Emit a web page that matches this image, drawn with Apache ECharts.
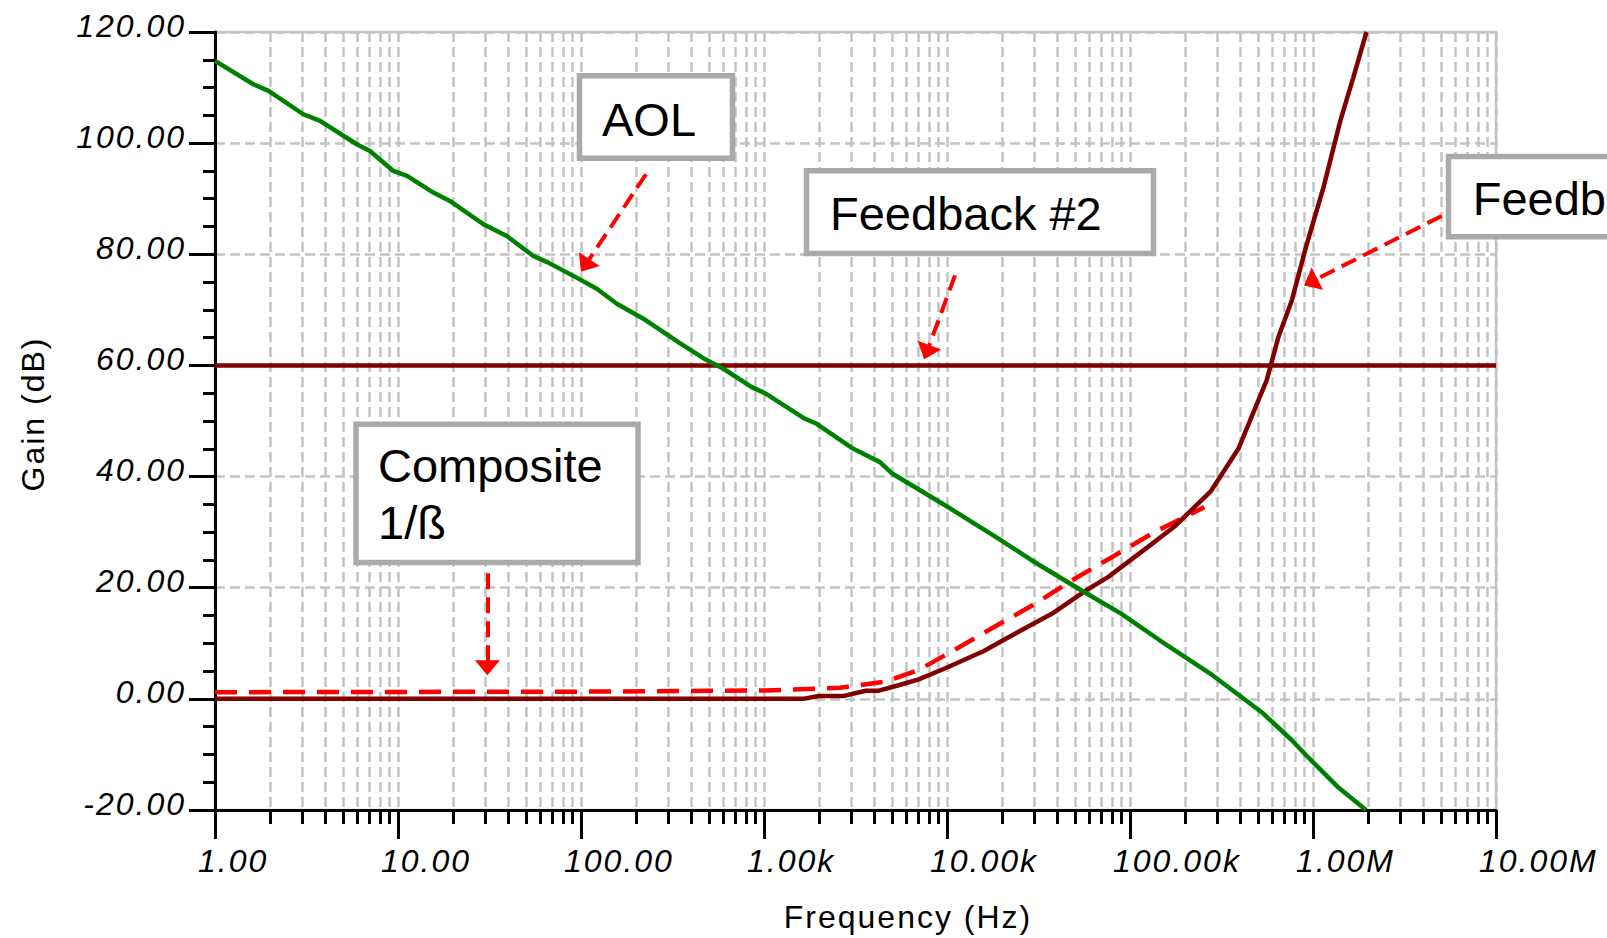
<!DOCTYPE html>
<html>
<head>
<meta charset="utf-8">
<title>Gain vs Frequency</title>
<script src="https://cdn.jsdelivr.net/npm/echarts@6/dist/echarts.min.js"></script>
<style>
  html, body { margin: 0; padding: 0; background: #fff; }
  #chart { width: 1607px; height: 938px; }
  /* the axis texts of the original are spaced out a little */
  #chart text[style*="32px"] { letter-spacing: 2px; }
</style>
</head>
<body>
<div id="chart"></div>
<script>
  // decade ticks and their labels
  var decades = [1, 10, 100, 1000, 10000, 100000, 1000000, 10000000];
  var xTickLabels = ['1.00', '10.00', '100.00', '1.00k', '10.00k', '100.00k', '1.00M', '10.00M'];
  var minorSteps = [2, 3, 4, 5, 6, 7, 8, 9];

  // AOL (open loop gain)
  var aolFreq = [1, 1.62, 1.96, 3.04, 3.75, 5.95, 7.03, 9.43, 11.2, 15.6, 19.2, 29.3, 39.3, 54.9, 66.2, 94.6,
    122, 157, 219, 282, 347, 466, 600, 857, 1012, 1675, 1940, 3077, 4300, 5040, 9800, 19200, 29100,
    54400, 89800, 146000, 273000, 533000, 764000, 914000, 1360000, 1950000];
  var aolGain = [114.8, 110.6, 109.4, 105.2, 104.0, 99.8, 98.6, 95.0, 94.1, 91.1, 89.6, 85.4, 83.3, 79.7, 78.5, 75.8,
    73.8, 71.1, 68.4, 66.0, 64.0, 61.3, 59.4, 56.1, 55.0, 50.4, 49.5, 45.0, 42.6, 40.5, 34.8, 28.8, 24.9,
    19.5, 15.3, 10.5, 4.6, -2.6, -7.4, -10.1, -15.8, -20.0];

  // Feedback #1
  var fb1Freq = [1, 1630, 2000, 2700, 3600, 4200, 5500, 7000, 9800, 15900, 21700, 37400, 56800, 75800,
    125000, 175000, 277000, 391000, 558000, 647000, 766000, 924000, 1140000, 1410000, 1660000, 1960000];
  var fb1Gain = [0, 0, 0.5, 0.5, 1.45, 1.45, 2.5, 3.5, 5.5, 8.6, 11.1, 15.3, 19.4, 21.9,
    27.3, 31.0, 37.4, 45.0, 57.3, 65.1, 71.7, 81.8, 92.0, 104.0, 111.8, 120.0];

  // Feedback #2
  var fb2Freq = [1, 10000000];
  var fb2Gain = [60, 60];

  // Composite 1/beta
  var compFreq = [1, 100, 1000, 2600, 4600, 7000, 10200, 17600, 29200, 48000, 82600, 136000, 255000];
  var compGain = [1.2, 1.3, 1.5, 2.0, 3.1, 5.2, 8.2, 12.7, 16.8, 21.3, 25.8, 30.0, 34.5];

  // annotation arrows: [fromFreq, fromGain, toFreq, toGain]
  var arrows = [
    [226.5, 94.4, 105.4, 78.0],
    [11060, 76.2, 7750, 62.4],
    [5050000, 86.9, 971000, 75.0],
    [30.8, 22.6, 30.8, 5.6]
  ];

  function pairs (xs, ys) {
    return xs.map(function (x, i) { return [x, ys[i]] })
  }

  var minorTicks = [];
  decades.slice(0, -1).forEach(function (d) {
    minorSteps.forEach(function (s) { minorTicks.push(d * s) })
  });

  var gridLine = { color: '#c3c3c3', width: 2.5, type: [10, 5] };
  var axisFont = { fontFamily: 'Liberation Sans', fontSize: 32, color: '#000' };

  var chart = echarts.init(document.getElementById('chart'), null, { renderer: 'svg' });

  var option = {
    animation: false,
    backgroundColor: '#fff',
    grid: {
      left: 215, top: 32, width: 1281, height: 778,
      show: true, borderColor: '#c3c3c3', borderWidth: 2.5
    },
    xAxis: [{
      type: 'log', logBase: 10, min: 1, max: 10000000, position: 'bottom',
      name: 'Frequency (Hz)', nameLocation: 'middle', nameGap: 91,
      nameTextStyle: Object.assign({ padding: [0, 0, 0, 105] }, axisFont),
      axisLine: { onZero: false, lineStyle: { color: '#000', width: 3 } },
      axisTick: { customValues: decades, length: 29, lineStyle: { color: '#000', width: 3 } },
      axisLabel: Object.assign({
        customValues: decades, fontStyle: 'italic', margin: 35, align: 'left', padding: [0, 0, 0, -17],
        formatter: function (v) { return xTickLabels[Math.round(Math.log10(v))] }
      }, axisFont),
      splitLine: { show: true, lineStyle: gridLine }
    }, {
      type: 'log', logBase: 10, min: 1, max: 10000000, position: 'bottom',
      axisLine: { show: false, onZero: false },
      axisTick: { customValues: minorTicks, length: 14, lineStyle: { color: '#000', width: 3 } },
      axisLabel: { show: false },
      splitLine: { show: true, lineStyle: gridLine }
    }],
    yAxis: {
      type: 'value', min: -20, max: 120, interval: 20,
      name: 'Gain (dB)', nameLocation: 'middle', nameGap: 166,
      nameTextStyle: Object.assign({ padding: [0, 0, 0, 14] }, axisFont),
      axisLine: { show: true, onZero: false, lineStyle: { color: '#000', width: 3 } },
      axisTick: { show: true, length: 26, lineStyle: { color: '#000', width: 3 } },
      minorTick: { show: true, splitNumber: 4, length: 12, lineStyle: { color: '#000', width: 3 } },
      axisLabel: Object.assign({
        fontStyle: 'italic', margin: 29, verticalAlign: 'bottom', lineHeight: 13,
        formatter: function (v) { return v.toFixed(2) }
      }, axisFont),
      splitLine: { show: true, lineStyle: gridLine }
    },
    series: [{
      name: 'Composite 1/ß', type: 'line', data: pairs(compFreq, compGain),
      symbol: 'none', silent: true,
      lineStyle: { color: '#ff0000', width: 4.5, type: [22, 12] },
      itemStyle: { color: '#ff0000' },
      markLine: {
        silent: true, symbol: ['none', 'triangle'],
        label: { show: false },
        lineStyle: { color: '#ff0000', width: 4, type: [16, 8] },
        itemStyle: { color: '#ff0000' },
        data: arrows.map(function (a) {
          return [{ coord: [a[0], a[1]] }, { coord: [a[2], a[3]], symbolSize: [25, 15] }]
        })
      }
    }, {
      name: 'Feedback #2', type: 'line', data: pairs(fb2Freq, fb2Gain),
      symbol: 'none', silent: true,
      lineStyle: { color: '#800000', width: 4.5 }, itemStyle: { color: '#800000' }
    }, {
      name: 'Feedback #1', type: 'line', data: pairs(fb1Freq, fb1Gain),
      symbol: 'none', silent: true,
      lineStyle: { color: '#800000', width: 4.5 }, itemStyle: { color: '#800000' }
    }, {
      name: 'AOL', type: 'line', data: pairs(aolFreq, aolGain),
      symbol: 'none', silent: true,
      lineStyle: { color: '#008000', width: 4.5 }, itemStyle: { color: '#008000' }
    }],
    graphic: [
      { type: 'rect', z: 100, shape: { x: 579.5, y: 75.8, width: 153, height: 82.4 },
        style: { fill: '#fff', stroke: '#aaaaaa', lineWidth: 5.5 } },
      { type: 'text', z: 101, x: 602, y: 119.7,
        style: { text: 'AOL', font: '47px "Liberation Sans"', fill: '#000', verticalAlign: 'middle' } },

      { type: 'rect', z: 100, shape: { x: 806.5, y: 170.8, width: 347, height: 82.7 },
        style: { fill: '#fff', stroke: '#aaaaaa', lineWidth: 5.5 } },
      { type: 'text', z: 101, x: 830, y: 213.7,
        style: { text: 'Feedback #2', font: '47px "Liberation Sans"', fill: '#000', verticalAlign: 'middle' } },

      { type: 'rect', z: 100, shape: { x: 1448.5, y: 156.5, width: 200, height: 80.3 },
        style: { fill: '#fff', stroke: '#aaaaaa', lineWidth: 5.5 } },
      { type: 'text', z: 101, x: 1472.7, y: 198.7,
        style: { text: 'Feedback #1', font: '47px "Liberation Sans"', fill: '#000', verticalAlign: 'middle' } },

      { type: 'rect', z: 100, shape: { x: 356, y: 424.2, width: 282, height: 138.3 },
        style: { fill: '#fff', stroke: '#aaaaaa', lineWidth: 5.5 } },
      { type: 'text', z: 101, x: 378, y: 465.4,
        style: { text: 'Composite', font: '47px "Liberation Sans"', fill: '#000', verticalAlign: 'middle' } },
      { type: 'text', z: 101, x: 378, y: 522.7,
        style: { text: '1/ß', font: '47px "Liberation Sans"', fill: '#000', verticalAlign: 'middle' } }
    ]
  };

  chart.setOption(option);
</script>
</body>
</html>
